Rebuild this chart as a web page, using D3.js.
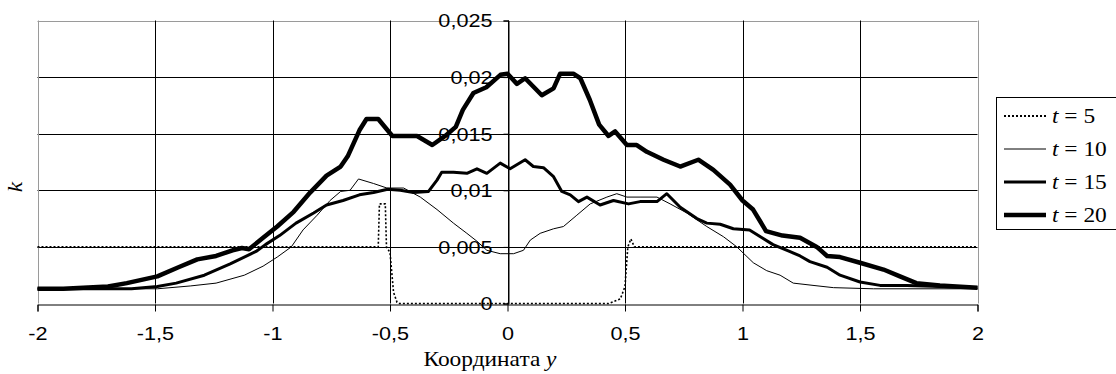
<!DOCTYPE html>
<html lang="ru">
<head>
<meta charset="utf-8" />
<script src="https://cdn.jsdelivr.net/npm/d3@7"></script>
<style>
    body { margin: 0; background: #fff; }
    .tick text { font-family: "Liberation Sans", Arial, sans-serif; font-size: 18.5px; fill: #000; }
    .serif { font-family: "Liberation Serif", "Times New Roman", serif; font-size: 20px; fill: #000; }
</style>
</head>
<body>
<script>
// tick values
var xTicks = [-2, -1.5, -1, -0.5, 0, 0.5, 1, 1.5, 2];
var yTicks = [0, 0.005, 0.01, 0.015, 0.02, 0.025];

// series as [y coordinate, k]
var t5 = [[-2, 0.005], [-0.55, 0.005], [-0.545, 0.0088], [-0.52, 0.0088], [-0.515, 0.005],
    [-0.5, 0.0045], [-0.485, 0.001], [-0.47, 0.0001], [-0.46, 0], [0.43, 0], [0.48, 0.0004],
    [0.5, 0.0015], [0.512, 0.005], [0.525, 0.0057], [0.54, 0.005], [2, 0.005]];

var t10 = [[-2, 0.0013], [-1.49, 0.0013], [-1.35, 0.00155], [-1.24, 0.0018], [-1.12, 0.0025],
    [-1.04, 0.0033], [-0.98, 0.0041], [-0.92, 0.005], [-0.87, 0.0065], [-0.81, 0.0078],
    [-0.755, 0.0091], [-0.71, 0.0099], [-0.67, 0.01], [-0.634, 0.011], [-0.57, 0.0106],
    [-0.513, 0.0102], [-0.442, 0.0102], [-0.371, 0.0094], [-0.3, 0.0083], [-0.23, 0.0071],
    [-0.173, 0.0062], [-0.13, 0.0055], [-0.088, 0.0047], [-0.031, 0.0044], [0.026, 0.0044],
    [0.068, 0.0047], [0.097, 0.0056], [0.139, 0.0062], [0.196, 0.0066], [0.238, 0.0068],
    [0.295, 0.0078], [0.352, 0.0088], [0.423, 0.0094], [0.465, 0.0097], [0.508, 0.0094],
    [0.564, 0.0094], [0.636, 0.0094], [0.692, 0.0088], [0.763, 0.008], [0.848, 0.0068],
    [0.919, 0.0059], [0.976, 0.005], [1.046, 0.0036], [1.103, 0.0029], [1.16, 0.0025],
    [1.216, 0.0018], [1.3, 0.0016], [1.387, 0.0014], [1.557, 0.0013], [2, 0.0013]];

var t15 = [[-2, 0.0013], [-1.6, 0.0013], [-1.49, 0.0015], [-1.41, 0.0018], [-1.29, 0.0025],
    [-1.18, 0.0035], [-1.07, 0.0046], [-1.03, 0.0052], [-0.97, 0.006], [-0.9, 0.0071],
    [-0.825, 0.008], [-0.77, 0.0087], [-0.7, 0.0091], [-0.63, 0.0096], [-0.57, 0.0098],
    [-0.51, 0.0101], [-0.456, 0.01], [-0.4, 0.0098], [-0.336, 0.0099], [-0.3, 0.0109],
    [-0.28, 0.0116], [-0.23, 0.0116], [-0.173, 0.0115], [-0.13, 0.0119], [-0.088, 0.0115],
    [-0.031, 0.0124], [0.011, 0.0119], [0.075, 0.0127], [0.11, 0.0121], [0.153, 0.012],
    [0.196, 0.0112], [0.231, 0.0099], [0.267, 0.0096], [0.302, 0.009], [0.338, 0.0094],
    [0.394, 0.0087], [0.451, 0.0091], [0.515, 0.0088], [0.564, 0.009], [0.636, 0.009],
    [0.678, 0.0097], [0.735, 0.0085], [0.806, 0.0075], [0.848, 0.0071], [0.905, 0.007],
    [0.961, 0.0066], [1.03, 0.0065], [1.13, 0.0052], [1.2, 0.0046], [1.245, 0.0042],
    [1.287, 0.0037], [1.36, 0.0032], [1.415, 0.0025], [1.5, 0.0019], [1.585, 0.0016],
    [1.7, 0.0016], [1.84, 0.0015], [2, 0.0014]];

var t20 = [[-2, 0.0013], [-1.89, 0.0013], [-1.7, 0.0015], [-1.62, 0.0018], [-1.49, 0.0024],
    [-1.4, 0.0032], [-1.32, 0.0039], [-1.24, 0.0042], [-1.17, 0.0047], [-1.13, 0.0049],
    [-1.1, 0.0048], [-1.04, 0.0058], [-0.98, 0.0068], [-0.91, 0.0081], [-0.84, 0.0098],
    [-0.77, 0.0113], [-0.71, 0.0121], [-0.68, 0.013], [-0.63, 0.0153], [-0.6, 0.0163],
    [-0.55, 0.0163], [-0.49, 0.0148], [-0.385, 0.0148], [-0.32, 0.014], [-0.265, 0.0148],
    [-0.22, 0.0156], [-0.19, 0.0171], [-0.145, 0.0186], [-0.09, 0.0191], [-0.03, 0.0202],
    [0, 0.0203], [0.04, 0.0194], [0.075, 0.0199], [0.146, 0.0184], [0.196, 0.019],
    [0.224, 0.0203], [0.28, 0.0203], [0.31, 0.0199], [0.35, 0.018], [0.39, 0.0158],
    [0.43, 0.0148], [0.458, 0.0152], [0.508, 0.014], [0.55, 0.014], [0.593, 0.0134],
    [0.664, 0.0127], [0.735, 0.0121], [0.812, 0.0127], [0.876, 0.0118], [0.947, 0.0105],
    [1, 0.0091], [1.045, 0.0083], [1.1, 0.0064], [1.17, 0.006], [1.245, 0.0058],
    [1.316, 0.005], [1.36, 0.0042], [1.415, 0.0041], [1.5, 0.0036], [1.6, 0.003],
    [1.67, 0.0024], [1.74, 0.0018], [1.84, 0.0016], [2, 0.0014]];

var seriesNames = ["t = 5", "t = 10", "t = 15", "t = 20"];
var seriesData = [t5, t10, t15, t20];
var seriesWidth = [1.6, 1, 3, 4.5];
var seriesDash = ["2,2", null, null, null];

var width = 1116, height = 374;
var sx = 1.17; // the reference text is a bit wider than its height

var svg = d3.select("body").append("svg")
    .attr("width", width)
    .attr("height", height);

var x = d3.scaleLinear().domain([-2, 2]).range([37.5, 977.5]);
var y = d3.scaleLinear().domain([0, 0.025]).range([303.5, 20.5]);

function fmt(v) { return String(v).replace(".", ","); }

// grid
var grid = svg.append("g");
grid.selectAll(".hg").data(yTicks.slice(1)).enter().append("line")
    .attr("x1", x(-2)).attr("x2", x(2))
    .attr("y1", function (d) { return Math.round(y(d)) + 0.5; })
    .attr("y2", function (d) { return Math.round(y(d)) + 0.5; })
    .attr("stroke", function (d) { return d === 0.025 ? "#9a9a9a" : "#000"; });
grid.selectAll(".vg").data(xTicks).enter().append("line")
    .attr("y1", y(0.025)).attr("y2", y(0))
    .attr("x1", function (d) { return Math.round(x(d)) + 0.5; })
    .attr("x2", function (d) { return Math.round(x(d)) + 0.5; })
    .attr("stroke", function (d) { return (d === -2 || d === 2) ? "#9a9a9a" : "#000"; });

// curves
var line = d3.line()
    .x(function (d) { return x(d[0]); })
    .y(function (d) { return y(d[1]); });

svg.append("g").selectAll("path").data(seriesData).enter().append("path")
    .attr("d", line)
    .attr("fill", "none")
    .attr("stroke", "#000")
    .attr("stroke-width", function (d, i) { return seriesWidth[i]; })
    .attr("stroke-dasharray", function (d, i) { return seriesDash[i]; })
    .attr("stroke-linejoin", "round");

// axes
var xAxis = svg.append("g")
    .attr("transform", "translate(0," + (Math.round(y(0)) + 0.5) + ")")
    .call(d3.axisBottom(x).tickValues(xTicks).tickSize(7).tickFormat(fmt));
xAxis.selectAll(".tick text")
    .attr("y", 0).attr("dy", null)
    .attr("transform", "translate(0,35) scale(" + sx + ",1)");

var yAxis = svg.append("g")
    .attr("transform", "translate(" + (Math.round(x(0)) + 0.5) + ",0)")
    .call(d3.axisLeft(y).tickValues(yTicks).tickSize(5).tickFormat(fmt));
yAxis.selectAll(".tick text")
    .attr("x", 0).attr("dy", "0.35em")
    .attr("transform", "translate(-16,0) scale(" + sx + ",1)");
svg.selectAll(".domain").attr("stroke", "#000");
svg.selectAll(".tick line").attr("stroke", "#000");

// axis titles
var xt = svg.append("text").attr("class", "serif")
    .attr("transform", "translate(490,366) scale(" + sx + ",1)")
    .attr("text-anchor", "middle");
xt.append("tspan").text("Координата ");
xt.append("tspan").attr("font-style", "italic").text("y");

svg.append("text").attr("class", "serif")
    .attr("font-style", "italic")
    .attr("transform", "translate(22,187) rotate(-90) scale(" + sx + ",1)")
    .attr("text-anchor", "middle")
    .text("k");

// legend
var legend = svg.append("g");
legend.append("rect")
    .attr("x", 996.5).attr("y", 97.5)
    .attr("width", 130).attr("height", 132)
    .attr("fill", "#fff").attr("stroke", "#000");

var rows = legend.selectAll(".row").data(seriesNames).enter().append("g")
    .attr("transform", function (d, i) { return "translate(0," + (116 + i * 33) + ")"; });
rows.append("line")
    .attr("x1", 1004).attr("x2", 1046)
    .attr("stroke", "#000")
    .attr("stroke-width", function (d, i) { return seriesWidth[i] + (i === 0 ? 0.6 : 0); })
    .attr("stroke-dasharray", function (d, i) { return seriesDash[i]; });
var lt = rows.append("text").attr("class", "serif")
    .attr("dy", "0.33em")
    .attr("transform", "translate(1052,0) scale(" + sx + ",1)");
lt.append("tspan").attr("font-style", "italic").text("t");
lt.append("tspan").text(function (d) { return d.slice(1); });
</script>
</body>
</html>
